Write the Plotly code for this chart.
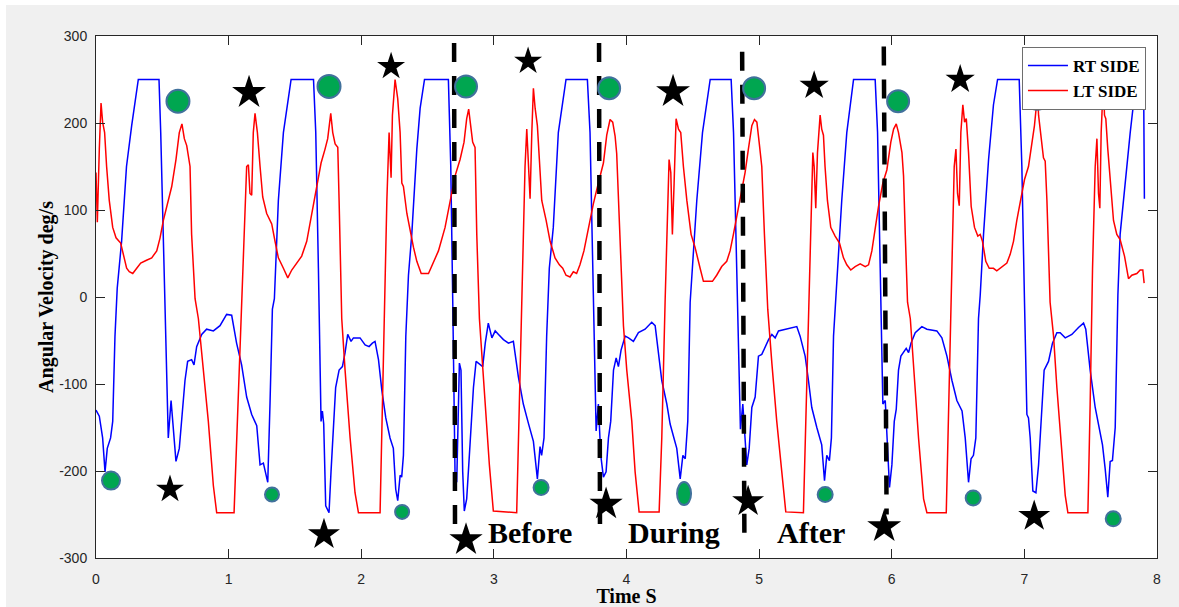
import plotly.graph_objects as go

# ---------------- data ----------------
rt_t = [0.0,0.025,0.05,0.068,0.085,0.11,0.126,0.143,0.16,0.193,0.23,0.269,0.319,0.475,0.488,0.508,0.528,0.545,0.566,0.578,0.603,0.628,0.646,0.671,0.691,0.721,0.739,0.759,0.797,0.834,0.885,0.935,0.985,1.023,1.06,1.098,1.136,1.174,1.212,1.237,1.262,1.295,1.312,1.33,1.345,1.375,1.413,1.471,1.64,1.657,1.677,1.697,1.707,1.717,1.732,1.757,1.772,1.79,1.807,1.833,1.858,1.878,1.898,1.923,1.941,1.966,1.991,2.029,2.059,2.084,2.104,2.13,2.155,2.185,2.217,2.242,2.26,2.275,2.293,2.305,2.318,2.336,2.356,2.381,2.419,2.444,2.477,2.657,2.675,2.69,2.707,2.72,2.74,2.752,2.765,2.777,2.795,2.82,2.846,2.866,2.896,2.916,2.935,2.958,2.985,3.01,3.035,3.072,3.11,3.147,3.185,3.222,3.26,3.298,3.328,3.348,3.36,3.378,3.398,3.418,3.448,3.486,3.544,3.705,3.725,3.745,3.763,3.771,3.788,3.806,3.826,3.846,3.864,3.881,3.902,3.922,3.939,3.959,3.99,4.015,4.052,4.09,4.14,4.19,4.216,4.241,4.266,4.304,4.329,4.354,4.379,4.405,4.425,4.443,4.462,4.48,4.498,4.53,4.573,4.631,4.789,4.807,4.825,4.845,4.859,4.877,4.894,4.907,4.925,4.945,4.97,4.995,5.02,5.045,5.071,5.096,5.121,5.146,5.196,5.234,5.284,5.309,5.347,5.372,5.397,5.435,5.472,5.493,5.51,5.53,5.545,5.561,5.586,5.623,5.661,5.712,5.875,5.893,5.913,5.933,5.951,5.968,5.983,6.001,6.019,6.034,6.051,6.069,6.089,6.109,6.127,6.145,6.177,6.227,6.265,6.34,6.378,6.416,6.454,6.491,6.53,6.554,6.579,6.598,6.616,6.634,6.654,6.667,6.692,6.73,6.767,6.798,6.961,6.981,7.001,7.019,7.031,7.044,7.064,7.087,7.107,7.126,7.149,7.182,7.212,7.245,7.27,7.308,7.358,7.408,7.446,7.463,7.496,7.534,7.572,7.589,7.609,7.629,7.647,7.664,7.685,7.705,7.722,7.76,7.798,7.836,7.874,7.899,7.905]
rt_v = [-130,-137,-162,-201,-174,-162,-143,-45,10,64,150,197,250,250,189,72,-45,-162,-119,-143,-189,-174,-143,-96,-74,-72,-78,-57,-43,-37,-39,-33,-20,-21,-53,-78,-115,-135,-148,-193,-191,-213,-123,-14,-2,111,189,250,250,189,33,-143,-131,-146,-240,-248,-201,-152,-104,-84,-80,-64,-43,-51,-47,-47,-47,-55,-57,-53,-51,-72,-107,-139,-162,-174,-221,-234,-205,-207,-182,-45,25,72,170,217,250,250,150,-6,-201,-213,-76,-84,-201,-246,-232,-170,-104,-74,-78,-80,-53,-30,-47,-39,-43,-49,-53,-51,-92,-123,-145,-166,-209,-172,-182,-162,-45,33,80,189,250,250,189,33,-84,-154,-123,-182,-207,-201,-162,-143,-84,-70,-80,-61,-45,-47,-51,-41,-37,-29,-33,-64,-96,-123,-146,-160,-174,-209,-182,-186,-143,-6,33,111,189,250,250,189,72,-45,-152,-123,-162,-193,-174,-127,-115,-68,-66,-57,-49,-43,-47,-39,-37,-36,-34,-45,-68,-96,-127,-150,-170,-211,-182,-188,-162,-45,18,111,189,250,250,189,33,-123,-119,-182,-219,-193,-143,-129,-84,-68,-64,-59,-64,-53,-41,-34,-37,-39,-47,-68,-96,-119,-131,-162,-213,-186,-182,-162,-25,2,72,158,221,250,250,150,-6,-135,-139,-162,-223,-225,-193,-143,-84,-74,-53,-41,-41,-47,-43,-35,-30,-37,-84,-127,-158,-170,-197,-230,-189,-188,-150,2,72,131,189,240,250,250,113]

lt_t = [0.0,0.01,0.025,0.038,0.05,0.065,0.08,0.1,0.126,0.151,0.186,0.206,0.231,0.251,0.277,0.307,0.337,0.377,0.42,0.458,0.483,0.508,0.538,0.571,0.603,0.628,0.648,0.666,0.684,0.699,0.709,0.721,0.747,0.772,0.81,0.847,0.885,0.91,1.041,1.061,1.086,1.111,1.136,1.149,1.161,1.174,1.186,1.199,1.217,1.237,1.257,1.287,1.3,1.325,1.35,1.375,1.413,1.446,1.476,1.513,1.551,1.589,1.627,1.665,1.697,1.727,1.747,1.77,1.785,1.803,1.823,1.833,1.853,1.878,1.916,1.953,1.979,2.142,2.16,2.175,2.193,2.21,2.218,2.225,2.235,2.255,2.275,2.293,2.306,2.318,2.344,2.369,2.394,2.419,2.452,2.507,2.545,2.582,2.632,2.67,2.707,2.745,2.775,2.795,2.81,2.825,2.84,2.858,2.871,2.891,2.908,2.934,2.966,2.996,3.172,3.192,3.218,3.235,3.248,3.261,3.273,3.286,3.298,3.311,3.328,3.343,3.361,3.394,3.424,3.461,3.494,3.519,3.544,3.574,3.599,3.624,3.649,3.679,3.713,3.75,3.788,3.826,3.851,3.876,3.896,3.914,3.926,3.934,3.952,3.977,4.002,4.04,4.065,4.095,4.246,4.266,4.291,4.311,4.321,4.334,4.346,4.359,4.374,4.392,4.409,4.429,4.455,4.487,4.517,4.555,4.58,4.618,4.648,4.68,4.718,4.756,4.781,4.806,4.839,4.869,4.894,4.919,4.945,4.965,4.983,5.0,5.02,5.04,5.065,5.096,5.133,5.171,5.201,5.334,5.354,5.372,5.389,5.405,5.415,5.427,5.44,5.46,5.472,5.485,5.497,5.515,5.54,5.573,5.606,5.636,5.661,5.691,5.724,5.762,5.8,5.825,5.85,5.875,5.9,5.933,5.963,5.993,6.014,6.034,6.051,6.077,6.089,6.102,6.119,6.14,6.165,6.202,6.24,6.265,6.411,6.428,6.454,6.471,6.484,6.496,6.509,6.521,6.536,6.549,6.562,6.579,6.599,6.624,6.649,6.667,6.684,6.709,6.735,6.767,6.792,6.83,6.868,6.893,6.918,6.943,6.969,7.001,7.031,7.056,7.076,7.094,7.1,7.107,7.126,7.144,7.157,7.17,7.194,7.22,7.245,7.283,7.308,7.328,7.479,7.496,7.514,7.534,7.547,7.559,7.569,7.579,7.589,7.596,7.604,7.614,7.629,7.647,7.672,7.697,7.722,7.755,7.785,7.81,7.848,7.873,7.893,7.903]
lt_v = [143,86,170,223,201,189,150,111,80,68,62,49,33,29,27,33,39,42,45,53,68,88,107,127,158,189,199,182,174,160,150,72,-2,-25,-84,-143,-217,-248,-248,-162,-64,33,150,152,119,117,189,211,189,150,115,96,92,84,64,45,33,22,31,39,47,64,96,131,154,170,182,211,189,176,172,111,-25,-84,-162,-225,-248,-248,-123,-6,111,189,162,137,209,250,228,189,131,127,96,76,57,41,27,27,41,53,80,111,139,158,178,205,216,197,178,172,72,-25,-64,-123,-193,-246,-248,-123,33,150,193,150,113,189,240,217,197,158,111,88,64,45,37,33,25,23,29,27,37,53,80,107,131,154,186,204,201,185,165,131,53,-33,-84,-143,-201,-247,-247,-162,-6,111,158,143,72,131,205,193,189,150,111,72,57,33,18,18,18,25,35,41,53,72,100,123,143,170,197,204,201,178,150,72,-14,-76,-143,-201,-247,-248,-123,-6,92,166,150,102,166,209,193,186,150,111,80,70,62,45,37,31,35,38,35,37,53,80,104,131,146,178,193,199,189,166,139,72,-6,-25,-84,-162,-232,-248,-248,-143,33,150,170,119,105,189,221,201,205,166,104,80,70,72,64,41,33,33,30,35,39,49,64,88,111,135,150,174,197,225,232,209,182,160,156,111,-6,-45,-104,-182,-228,-248,-248,-123,33,150,182,119,102,189,240,250,209,205,170,131,88,72,66,47,21,25,27,31,31,16]

# annotation markers drawn on the figure
circle_t = [0.113,0.618,1.327,1.757,2.308,2.79,3.356,3.869,4.962,5.498,6.048,6.614,7.097,7.67]
circle_v = [-211,225,-227,242,-247,242,-219,240,240,-227,225,-231,228,-255]
circle_size = [18,23,14,23,14,22,15,22,22,15,22,15,22,15]

oval_t = [4.434]
oval_v = [-226]

star_t = [0.558,1.154,1.719,2.225,2.79,3.258,3.846,4.351,4.917,5.415,5.943,6.516,7.074]
star_v = [-221,235,-273,265,-279,271,-238,236,-235,243,-264,250,-252]
star_size = [21,25.5,24,21,25,21,25,25.5,24,22,25.5,22,24]

# phase divider lines (top point, bottom point)
div_t_top = [2.700,3.793,4.872,5.940]
div_v_top = [292,292,282,288]
div_t_bot = [2.707,3.800,4.889,5.961]
div_v_bot = [-271,-271,-276,-250]

phase_labels = ["Before", "During", "After"]
phase_t = [3.273, 4.359, 5.392]
phase_v = [-271, -271, -271]

x_ticks = [0, 1, 2, 3, 4, 5, 6, 7, 8]
y_ticks = [-300, -200, -100, 0, 100, 200, 300]

# ---------------- figure ----------------
AX = "#262626"
SERIF = "Liberation Serif"
SANS = "Liberation Sans"

fig = go.Figure()
fig.add_trace(go.Scatter(x=rt_t, y=rt_v, mode="lines", name="RT SIDE",
                         line=dict(color="#0000FF", width=1.5)))
fig.add_trace(go.Scatter(x=lt_t, y=lt_v, mode="lines", name="LT SIDE",
                         line=dict(color="#FF0000", width=1.5)))

for i in range(len(div_t_top)):
    fig.add_trace(go.Scatter(x=[div_t_top[i], div_t_bot[i]], y=[div_v_top[i], div_v_bot[i]],
                             mode="lines", showlegend=False, hoverinfo="skip",
                             line=dict(color="black", width=4.5, dash="19px,14px")))

fig.add_trace(go.Scatter(x=circle_t, y=circle_v, mode="markers", showlegend=False,
                         marker=dict(symbol="circle", size=circle_size, color="#00A650",
                                     opacity=1, line=dict(color="#41719C", width=2))))
fig.add_trace(go.Scatter(x=star_t, y=star_v, mode="markers", showlegend=False,
                         marker=dict(symbol="star", size=star_size, color="black",
                                     opacity=1, line=dict(width=0))))

shapes = []
for t, v in zip(oval_t, oval_v):
    shapes.append(dict(type="circle", xref="x", yref="y", xsizemode="pixel", ysizemode="pixel",
                       xanchor=t, yanchor=v, x0=-7, x1=7, y0=-11.5, y1=11.5,
                       fillcolor="#00A650", line=dict(color="#41719C", width=2), layer="above"))
# white strips at top/left of the window (screenshot border)
shapes.append(dict(type="rect", xref="paper", yref="paper", x0=-0.0905, x1=-0.0848,
                   y0=-0.094, y1=1.07, fillcolor="white", line=dict(width=0), layer="above"))
shapes.append(dict(type="rect", xref="paper", yref="paper", x0=-0.0905, x1=1.021,
                   y0=1.0594, y1=1.07, fillcolor="white", line=dict(width=0), layer="above"))

annotations = []
for lab, t, v in zip(phase_labels, phase_t, phase_v):
    annotations.append(dict(x=t, y=v, xref="x", yref="y", text="<b>%s</b>" % lab,
                            showarrow=False, xanchor="center", yanchor="middle",
                            font=dict(family=SERIF, size=30, color="black")))

fig.update_layout(
    template="none",
    width=1179, height=607,
    margin=dict(l=96, r=22, t=36, b=49, pad=0),
    paper_bgcolor="#F0F0F0",
    plot_bgcolor="white",
    font=dict(family=SANS, size=14, color=AX),
    shapes=shapes,
    annotations=annotations,
    showlegend=True,
    legend=dict(x=0.9896, y=0.979, xanchor="right", yanchor="top",
                bgcolor="white", bordercolor="#6E6E6E", borderwidth=1,
                font=dict(family=SERIF, size=17, color="black", weight="bold"),
                tracegroupgap=0, itemwidth=40),
)
fig.update_xaxes(range=[0, 8], tickvals=x_ticks, ticktext=[str(v) for v in x_ticks],
                 ticks="inside", ticklen=9, tickwidth=1, tickcolor=AX,
                 showline=True, linecolor=AX, linewidth=1, mirror="ticks",
                 showgrid=False, zeroline=False, automargin=False,
                 tickfont=dict(family=SANS, size=14, color=AX), ticklabelstandoff=8,
                 title=dict(text="<b>Time S</b>", font=dict(family=SERIF, size=20, color="black"),
                            standoff=2))
fig.update_yaxes(range=[-300, 300], tickvals=y_ticks, ticktext=[str(v) for v in y_ticks],
                 ticks="inside", ticklen=9, tickwidth=1, tickcolor=AX,
                 showline=True, linecolor=AX, linewidth=1, mirror="ticks",
                 showgrid=False, zeroline=False, automargin=False,
                 tickfont=dict(family=SANS, size=14, color=AX), ticklabelstandoff=5,
                 title=dict(text="<b>Angular Velocity deg/s</b>", font=dict(family=SERIF, size=20, color="black"),
                            standoff=0))

fig.write_html("out.html")
